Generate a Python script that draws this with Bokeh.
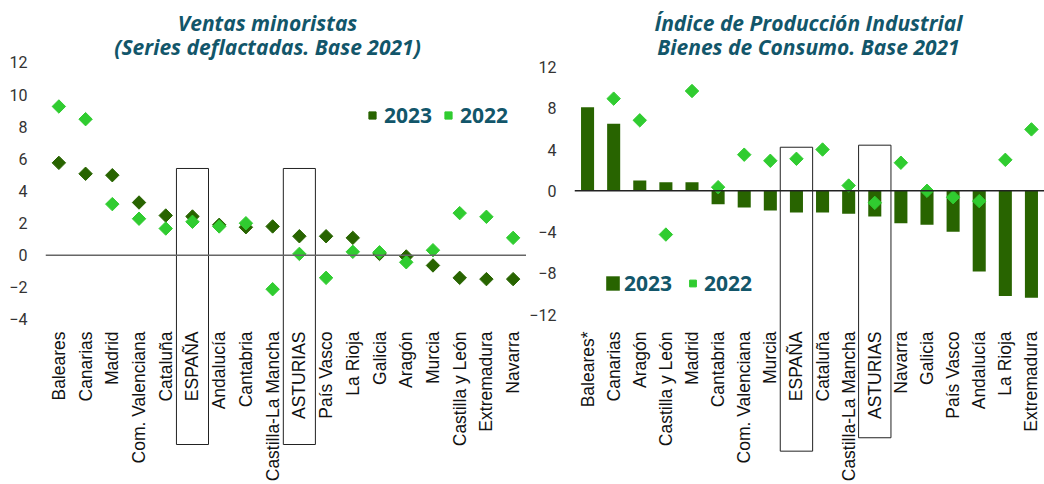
import numpy as np
from bokeh.plotting import figure
from bokeh.models import Span, Legend, LegendItem, FixedTicker
from bokeh.layouts import row
from bokeh.embed import file_html
from bokeh.resources import INLINE
from bokeh.core.properties import value

# ---------------- data ----------------
ventas_regions = ["Baleares", "Canarias", "Madrid", "Com. Valenciana", "Cataluña", "ESPAÑA",
                  "Andalucía", "Cantabria", "Castilla-La Mancha", "ASTURIAS", "País Vasco",
                  "La Rioja", "Galicia", "Aragón", "Murcia", "Castilla y León", "Extremadura", "Navarra"]
ventas_2023 = [5.75, 5.07, 4.98, 3.28, 2.47, 2.41, 1.89, 1.74, 1.79, 1.18, 1.18, 1.08,
               0.08, -0.08, -0.64, -1.41, -1.49, -1.49]
ventas_2022 = [9.26, 8.47, 3.18, 2.27, 1.66, 2.08, 1.79, 1.99, -2.12, 0.08, -1.41, 0.21,
               0.18, -0.44, 0.31, 2.62, 2.39, 1.08]
ventas_ticks = [-4, -2, 0, 2, 4, 6, 8, 10, 12]
ventas_title = ["Ventas minoristas", "(Series deflactadas. Base 2021)"]

ipi_regions = ["Baleares*", "Canarias", "Aragón", "Castilla y León", "Madrid", "Cantabria",
               "Com. Valenciana", "Murcia", "ESPAÑA", "Cataluña", "Castilla-La Mancha", "ASTURIAS",
               "Navarra", "Galicia", "País Vasco", "Andalucía", "La Rioja", "Extremadura"]
ipi_2023 = [8.1, 6.5, 1.0, 0.84, 0.84, -1.3, -1.62, -1.9, -2.1, -2.1, -2.23, -2.5,
            -3.14, -3.3, -3.98, -7.83, -10.2, -10.36]
ipi_2022 = [np.nan, 8.93, 6.83, -4.24, 9.67, 0.35, 3.5, 2.91, 3.1, 4.0, 0.51, -1.17,
            2.72, 0.0, -0.62, -1.0, 3.0, 5.95]
ipi_ticks = [-12, -8, -4, 0, 4, 8, 12]
ipi_title = ["Índice de Producción Industrial", "Bienes de Consumo. Base 2021"]

highlighted = ["ESPAÑA", "ASTURIAS"]
series_names = ["2023", "2022"]

# ---------------- styles ----------------
DARK = "#286400"
LIGHT = "#30cc30"
TEAL = "#12566a"
TITLE_FONT = "Open Sans"
LABEL_FONT = "Liberation Sans"
TICK_FONT = "Roboto"
H = 484


def base_figure(width, min_left, y_range, ticks, standoff):
    p = figure(width=width, height=H, x_range=(-0.5, 17.5), y_range=y_range,
               output_backend="svg", toolbar_location=None, x_axis_location=None,
               min_border_left=min_left, min_border_right=0, min_border_top=0,
               min_border_bottom=0)
    p.grid.visible = False
    p.outline_line_color = None
    p.background_fill_color = "white"
    p.border_fill_color = "white"
    ax = p.yaxis[0]
    ax.ticker = FixedTicker(ticks=ticks)
    ax.axis_line_color = None
    ax.major_tick_line_color = None
    ax.minor_tick_line_color = None
    ax.major_tick_out = 0
    ax.major_tick_in = 0
    ax.minor_tick_out = 0
    ax.minor_tick_in = 0
    ax.major_label_standoff = standoff
    ax.major_label_text_font = TICK_FONT
    ax.major_label_text_font_size = "16px"
    ax.major_label_text_color = "#333333"
    return p


def add_titles(p, xc, ys, lines):
    p.text(x=[xc, xc], y=ys, text=lines, text_align="center", text_baseline="middle",
           text_font=value(TITLE_FONT), text_font_style="bold italic",
           text_font_size="21px", text_color=TEAL)


def add_labels(p, regions, label_y):
    idx = np.arange(len(regions))
    p.text(x=idx, y=[label_y] * len(regions), text=regions, angle=np.pi / 2,
           text_align="right", text_baseline="middle", text_font=value(LABEL_FONT),
           text_font_size="17.5px", text_color="#111111")


# ---------------- left chart ----------------
xl = np.arange(len(ventas_regions))
p1 = base_figure(526, 45, (-14.28, 15.86), ventas_ticks, 18)
p1.add_layout(Span(location=0, dimension="width", line_color="#666666", line_width=1.5))
r1a = p1.scatter(xl, ventas_2023, marker="square", angle=np.pi / 4, size=9.5,
                 fill_color=DARK, line_color=DARK)
r1b = p1.scatter(xl, ventas_2022, marker="square", angle=np.pi / 4, size=9.5,
                 fill_color=LIGHT, line_color=LIGHT)
for name in highlighted:
    i = ventas_regions.index(name)
    p1.quad(left=[i - 0.6], right=[i + 0.6], bottom=[-11.79], top=[5.4],
            fill_color=None, line_color="#222222", line_width=1)
add_labels(p1, ventas_regions, -4.75)
add_titles(p1, 7.81, [14.49, 12.96], ventas_title)
leg1 = Legend(items=[LegendItem(label=series_names[0], renderers=[r1a]),
                     LegendItem(label=series_names[1], renderers=[r1b])],
              orientation="horizontal", location=(318, 355), border_line_color=None,
              background_fill_alpha=0, padding=0, margin=0, spacing=7, label_standoff=3,
              glyph_width=18, glyph_height=18, label_height=18,
              label_text_font=TITLE_FONT, label_text_font_style="bold",
              label_text_font_size="21px", label_text_color=TEAL)
p1.add_layout(leg1)

# ---------------- right chart ----------------
xr = np.arange(len(ipi_regions))
p2 = base_figure(518, 42, (-28.46, 18.44), ipi_ticks, 18)
r2a = p2.vbar(x=xr, top=ipi_2023, width=0.5, fill_color=DARK, line_color=None)
p2.add_layout(Span(location=0, dimension="width", line_color="#222222", line_width=1.5))
r2b = p2.scatter(xr, ipi_2022, marker="square", angle=np.pi / 4, size=9.5,
                 fill_color=LIGHT, line_color=LIGHT)
box_tops = [4.22, 4.42]
box_bottoms = [-25.23, -23.93]
for name, bt, bb in zip(highlighted, box_tops, box_bottoms):
    i = ipi_regions.index(name)
    p2.quad(left=[i - 0.62], right=[i + 0.62], bottom=[bb], top=[bt],
            fill_color=None, line_color="#222222", line_width=1)
add_labels(p2, ipi_regions, -13.63)
add_titles(p2, 8.46, [16.26, 13.93], ipi_title)
leg2 = Legend(items=[LegendItem(label=series_names[0], renderers=[r2a]),
                     LegendItem(label=series_names[1], renderers=[r2b])],
              orientation="horizontal", location=(30, 187), border_line_color=None,
              background_fill_alpha=0, padding=0, margin=0, spacing=12, label_standoff=3,
              glyph_width=17, glyph_height=18, label_height=18,
              label_text_font=TITLE_FONT, label_text_font_style="bold",
              label_text_font_size="21px", label_text_color=TEAL)
p2.add_layout(leg2)

layout = row(p1, p2)
open("out.html", "w").write(file_html(layout, INLINE))
